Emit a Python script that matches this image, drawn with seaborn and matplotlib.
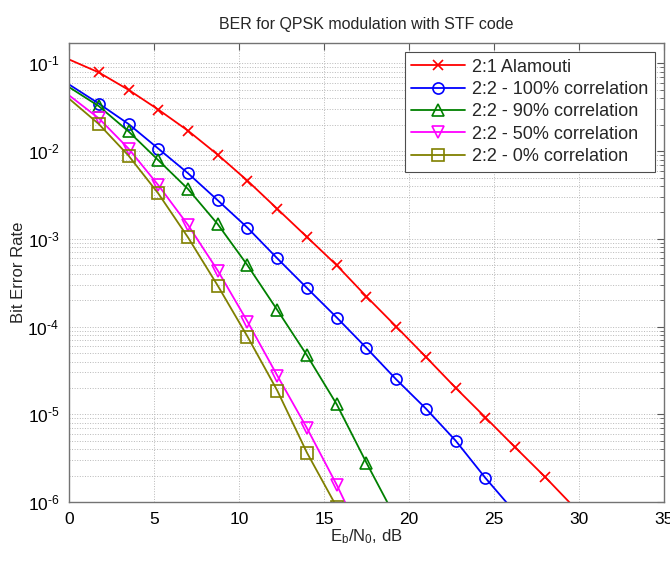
import numpy as np
import pandas as pd
import matplotlib
matplotlib.use('Agg')
import matplotlib.pyplot as plt
from matplotlib.ticker import FuncFormatter, NullFormatter
import seaborn as sns

# Eb/N0 points (dB), one every 1.75 dB
snr_step = 1.75

ber_alamouti = [0.111, 0.079, 0.050, 0.0298, 0.0171, 0.0091, 0.0046, 0.0022,
                0.00105, 5.0e-4, 2.2e-4, 1.0e-4, 4.5e-5, 2.0e-5, 9.2e-6,
                4.2e-6, 1.94e-6, 8.6e-7]
ber_corr100 = [0.0576, 0.0349, 0.0204, 0.0107, 0.0056, 0.00275, 0.00134,
               6.0e-4, 2.75e-4, 1.27e-4, 5.7e-5, 2.5e-5, 1.16e-5, 5.0e-6,
               1.88e-6, 7.6e-7]
ber_corr90 = [0.0537, 0.0326, 0.0168, 0.0079, 0.0037, 0.00147, 5.0e-4,
              1.55e-4, 4.7e-5, 1.3e-5, 2.8e-6, 6.4e-7]
ber_corr50 = [0.0433, 0.0237, 0.0107, 0.0041, 0.00144, 4.35e-4, 1.14e-4,
              2.77e-5, 6.96e-6, 1.57e-6, 3.1e-7]
ber_corr0 = [0.0397, 0.0204, 0.0089, 0.0033, 0.00104, 2.93e-4, 7.7e-5,
             1.87e-5, 3.65e-6, 8.8e-7]

labels = ['2:1 Alamouti', '2:2 - 100% correlation', '2:2 - 90% correlation',
          '2:2 - 50% correlation', '2:2 - 0% correlation']
series = [ber_alamouti, ber_corr100, ber_corr90, ber_corr50, ber_corr0]
colors = ['#ff0000', '#0000ff', '#008000', '#ff00ff', '#808000']
markers = ['x', 'o', '^', 'v', 's']

sns.set_style('white')
plt.rcParams['font.family'] = ['Liberation Sans', 'DejaVu Sans']
plt.rcParams['mathtext.fontset'] = 'custom'
plt.rcParams['mathtext.rm'] = 'Liberation Sans'
plt.rcParams['mathtext.it'] = 'Liberation Sans'

fig = plt.figure(figsize=(6.7, 5.61), dpi=100)
ax = fig.add_axes([0.103, 0.105, 0.888, 0.818])

for lab, vals, col, mk in zip(labels, series, colors, markers):
    df = pd.DataFrame({'snr': np.arange(len(vals)) * snr_step, 'ber': vals})
    sns.lineplot(data=df, x='snr', y='ber', ax=ax, color=col, marker=mk,
                 markersize=8 if mk != 'x' else 6.5, mfc='none', mec=col,
                 mew=1.2, lw=1.3, markevery=slice(1, None), label=lab)

ax.set_yscale('log')
ax.set_xlim(0, 35)
ax.set_ylim(1e-6, 0.17)
ax.set_xticks(np.arange(0, 36, 5))


def decade_label(v, pos):
    # matlab style: big "10", small hyphen exponent
    e = int(round(np.log10(v)))
    return r'$10^{\text{-}%d}$' % -e


ax.yaxis.set_major_formatter(FuncFormatter(decade_label))
ax.yaxis.set_minor_formatter(NullFormatter())

ax.grid(True, which='major', axis='both', ls=':', color='0.72', lw=0.7)
ax.grid(True, which='minor', axis='y', ls=':', color='0.72', lw=0.7)
ax.tick_params(which='both', direction='in', top=True, right=True,
               labelsize=12.5, colors='0.35', labelcolor='black')
ax.tick_params(which='major', length=5)
ax.tick_params(which='minor', length=3)
ax.tick_params(axis='x', which='major', pad=7)
ax.tick_params(axis='y', which='major', pad=7)
for sp in ax.spines.values():
    sp.set_color('0.45')
    sp.set_linewidth(1.0)

ax.set_title('BER for QPSK modulation with STF code', fontsize=11.5, pad=10)
ax.set_xlabel('E$_b$/N$_0$, dB', fontsize=12, labelpad=0)
ax.set_ylabel('Bit Error Rate', fontsize=12, labelpad=1)

leg = ax.legend(loc='upper right', fontsize=13, fancybox=False,
                edgecolor='0.3', framealpha=1, borderaxespad=0.5,
                handlelength=3.0, labelspacing=0.3, borderpad=0.35,
                handletextpad=0.4)
leg.get_frame().set_linewidth(0.8)

fig.savefig('out.png', dpi=100)
